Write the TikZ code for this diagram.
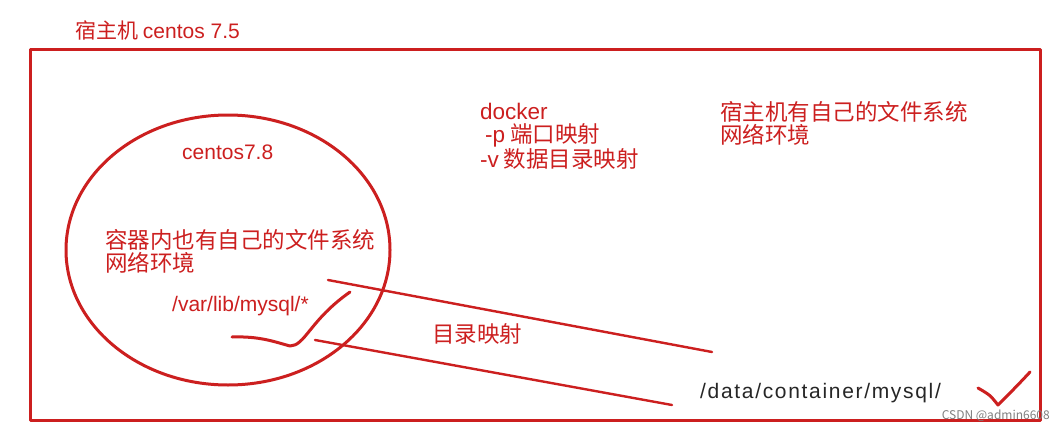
\documentclass[tikz,border=0pt]{standalone}
\usepackage{fontspec}
\setmainfont{Noto Sans CJK SC}
\newfontfamily\latinf{Liberation Sans}
\begin{document}
\begin{tikzpicture}[x=1pt,y=-1pt]
\definecolor{rd}{HTML}{CC1F1F}
\tikzset{lbl/.style={text=rd,font=\fontsize{22.5}{23}\selectfont,anchor=west,inner sep=0pt,align=left},
 pen/.style={draw=rd,line width=3pt,line cap=round,line join=round}}
\useasboundingbox (0,0) rectangle (1064,433);
\fill[white] (0,0) rectangle (1064,433);
\node[lbl,font=\fontsize{21}{22}\selectfont] (title) at (75,30) {宿主机 {\latinf centos 7.5}};
\draw[pen] (30,50) rectangle (1040,420);
\draw[pen] (228,250) ellipse (162 and 135);
\node[lbl,font=\fontsize{21}{22}\selectfont] (c78) at (182,152) {\latinf centos7.8};
\node[lbl] (inner) at (105,251) {容器内也有自己的文件系统\\网络环境};
\node[lbl,font=\fontsize{21}{22}\selectfont] (var) at (172,306) {\latinf /var/lib/mysql/*};
\node[lbl] (dock) at (480,136) {{\latinf docker}\\\ {\latinf -p} 端口映射\\{\latinf -v} 数据目录映射};
\node[lbl] (host) at (720,123) {宿主机有自己的文件系统\\网络环境};
\node[lbl] (map) at (432,334) {目录映射};
\node[lbl,text=black!85,font=\fontsize{21}{22}\selectfont] (data) at (700,393) {\latinf\addfontfeature{LetterSpace=8}/data/container/mysql/};
\node[text=gray,font=\fontsize{12}{13}\selectfont,anchor=east,inner sep=0pt] (wm) at (1050,416) {CSDN @admin6608};
\coordinate (a1) at (328,280); \coordinate (a2) at (712,352);
\coordinate (b1) at (315,340); \coordinate (b2) at (672,405);
\draw[pen,line width=2.4pt] (a1) -- (a2);
\draw[pen,line width=2.4pt] (b1) -- (b2);
\draw[pen] (232,337) .. controls (260,336) and (275,342) .. (290,346) .. controls (305,346) and (310,320) .. (350,292);
\draw[pen] (978,388) .. controls (990,395) .. (998,405) .. controls (1008,395) and (1018,385) .. (1030,372);
\end{tikzpicture}
\end{document}
